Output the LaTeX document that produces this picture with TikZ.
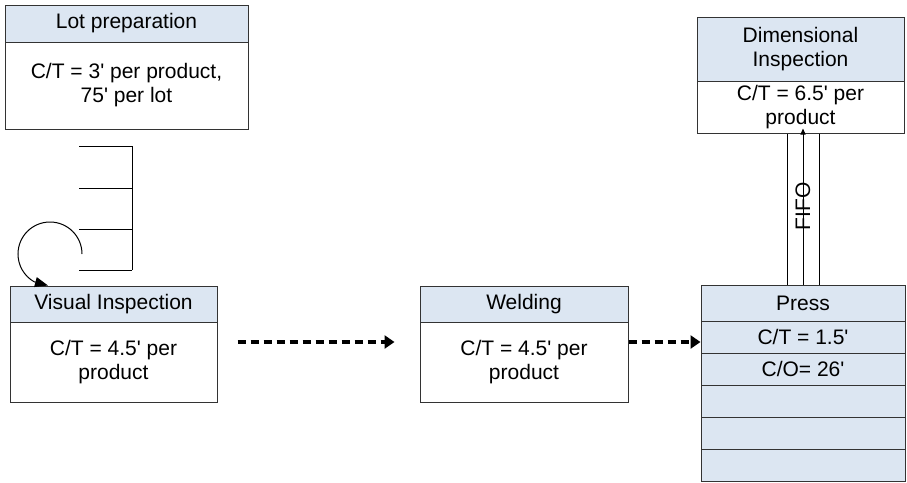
\documentclass[tikz,border=0pt]{standalone}
\usepackage{fontspec}
\setmainfont{Liberation Sans}
\usetikzlibrary{arrows.meta}

\definecolor{headblue}{RGB}{220,230,242}
\newcommand{\mn}{\textquotesingle}

\tikzset{
  box/.style={draw=black!80, line width=1pt, inner sep=0pt, align=center},
  hdr/.style={box, fill=headblue},
  push/.style={line width=4.5pt, dash pattern=on 8pt off 5pt,
    -{Triangle[length=10pt,width=13pt]}}
}

\begin{document}
\begin{tikzpicture}[x=1pt, y=-1pt, font=\fontsize{21}{24}\selectfont]
  \useasboundingbox (0,0) rectangle (907,482);

  % Lot preparation
  \node[hdr, minimum width=243pt, minimum height=37pt] (lothead) at (126.5,23.5) {Lot preparation};
  \node[box, minimum width=243pt, minimum height=87pt] (lotbody) at (126.5,85.5) {C/T = 3\mn{} per product,\\75\mn{} per lot};

  % Inventory
  \foreach \y in {146,188,229,270}
    \draw [line width=1pt] (79,\y) -- (132,\y);
  \draw [line width=1pt] (132,146) -- (132,270);

  % Visual Inspection
  \node[hdr, minimum width=207pt, minimum height=36pt] (vishead) at (113.5,304) {Visual Inspection};
  \node[box, minimum width=207pt, minimum height=80pt] (visbody) at (113.5,362) {C/T = 4.5\mn{} per\\product};

  % Rework loop
  \draw [line width=1pt, -{Triangle[length=13pt,width=10pt]}]
    (82,254) arc[start angle=0, end angle=-240, radius=32] -- (vishead.north -| 48,0);

  % Welding
  \node[hdr, minimum width=208pt, minimum height=36pt] (weldhead) at (524,304) {Welding};
  \node[box, minimum width=208pt, minimum height=80pt] (weldbody) at (524,362) {C/T = 4.5\mn{} per\\product};

  % Press
  \node[hdr, minimum width=204pt, minimum height=36pt] (presshead) at (803,303) {Press};
  \node[hdr, minimum width=204pt, minimum height=32pt] (pressct) at (803,337) {C/T = 1.5\mn};
  \node[hdr, minimum width=204pt, minimum height=32pt] (pressco) at (803,369) {C/O= 26\mn};
  \foreach \i/\y in {1/401,2/433,3/465}
    \node[hdr, minimum width=204pt, minimum height=32pt] (pressrow\i) at (803,\y) {};

  % Dimensional Inspection
  \node[hdr, minimum width=207pt, minimum height=64pt] (dimhead) at (800.5,49) {Dimensional\\Inspection};
  \node[box, minimum width=207pt, minimum height=52pt] (dimbody) at (800.5,107) {C/T = 6.5\mn{} per\\product};

  % Push arrows
  \coordinate (flow) at (0,342);
  \draw [push] ([xshift=20pt]visbody.east |- flow) -- ([xshift=-25pt]weldbody.west |- flow);
  \draw [push] (weldbody.east |- flow) -- (pressct.west |- flow);

  % FIFO lane
  \draw [line width=1pt] ([xshift=-16pt]presshead.north) -- ([xshift=-16pt]presshead.north |- dimbody.south);
  \draw [line width=1pt] ([xshift=16pt]presshead.north) -- ([xshift=16pt]presshead.north |- dimbody.south);
  \draw [line width=1pt, -{Triangle[length=6pt,width=5pt]}] (presshead.north)
    -- node[rotate=90] {FIFO} ([yshift=5pt]presshead.north |- dimbody.south);
\end{tikzpicture}
\end{document}
